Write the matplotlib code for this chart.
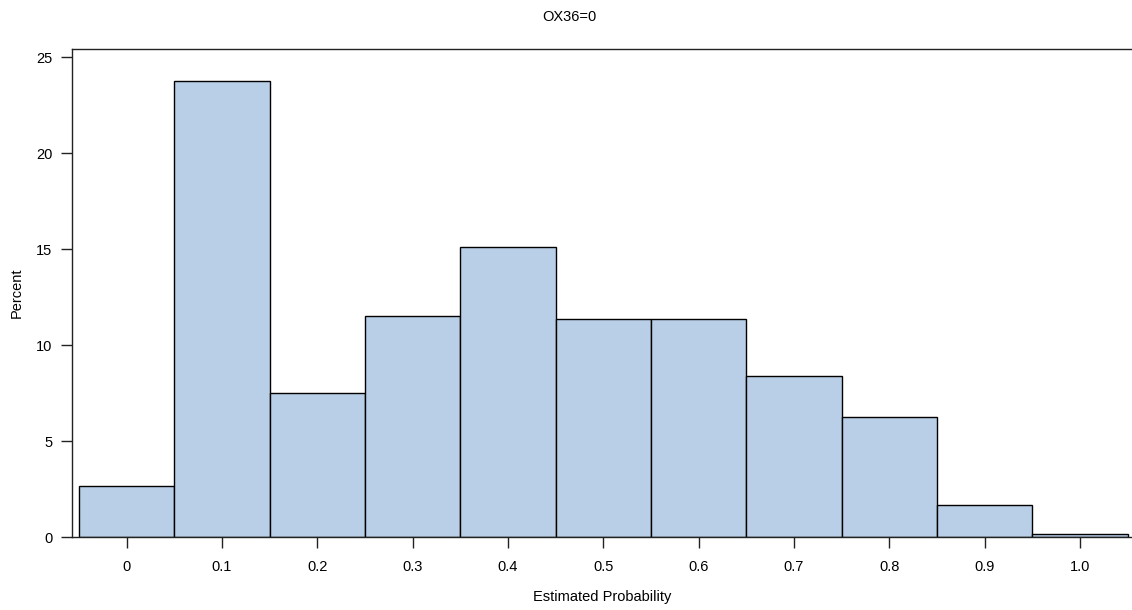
import matplotlib.pyplot as plt
import numpy as np

plt.rcParams['font.family'] = ['Liberation Sans', 'DejaVu Sans']

# bin midpoints and percent per bin
midpoints = [0.0, 0.1, 0.2, 0.3, 0.4, 0.5, 0.6, 0.7, 0.8, 0.9, 1.0]
percent = [2.69, 23.75, 7.53, 11.53, 15.10, 11.35, 11.35, 8.40, 6.28, 1.67, 0.16]
tick_labels = ['0', '0.1', '0.2', '0.3', '0.4', '0.5', '0.6', '0.7', '0.8', '0.9', '1.0']
yticks = [0, 5, 10, 15, 20, 25]

fig = plt.figure(figsize=(11.32, 6.10), dpi=100)
ax = fig.add_axes([0.0633, 0.1192, 0.9367, 0.801])

ax.bar(midpoints, percent, width=0.1, color='#b9cfe7', edgecolor='black', linewidth=1.0)

ax.set_xlim(-0.0577, 1.0546)
ax.set_ylim(0, 25.45)
ax.set_xticks(midpoints)
ax.set_xticklabels(tick_labels)
ax.set_yticks(yticks)

ax.spines['right'].set_visible(False)
for s in ['left', 'top', 'bottom']:
    ax.spines[s].set_color('#222222')
    ax.spines[s].set_linewidth(1.0)

ax.tick_params(axis='both', direction='out', length=8, width=1.0, color='#222222', labelsize=10.5)
ax.tick_params(axis='x', pad=8)
ax.tick_params(axis='y', pad=6)

ax.set_xlabel('Estimated Probability', fontsize=10.5, labelpad=12)
ax.set_ylabel('Percent', fontsize=10.5, labelpad=9)
fig.suptitle('OX36=0', fontsize=10.5, x=0.503, y=0.984)

fig.savefig('out.png', dpi=100)
